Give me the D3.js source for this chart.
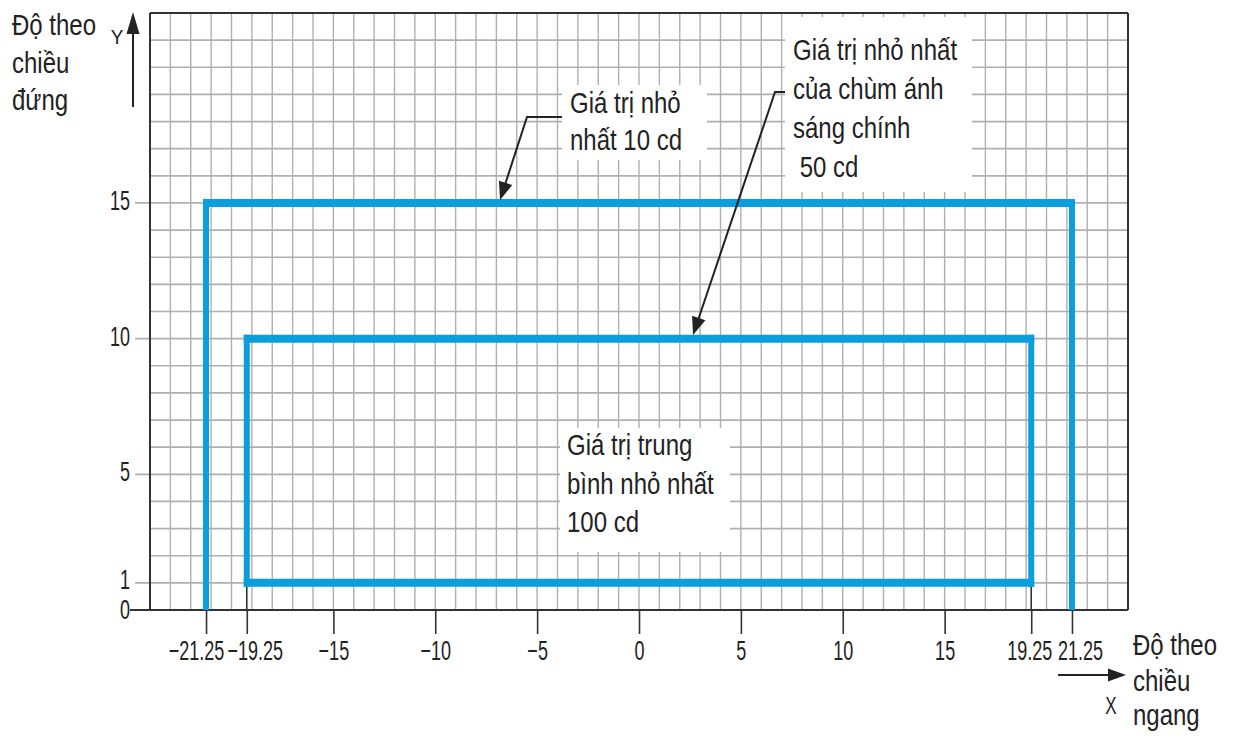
<!DOCTYPE html>
<html><head><meta charset="utf-8">
<script src="https://cdn.jsdelivr.net/npm/d3@7"></script>
<style>body{margin:0;background:#fff} svg{display:block;font-family:"Liberation Sans",Arial,sans-serif}</style>
</head><body>
<svg id="c" width="1235" height="741"></svg>
<script>
// ---- data ----
const xTicks = [-21.25, -19.25, -15, -10, -5, 0, 5, 10, 15, 19.25, 21.25];
const xTickLabels = ["−21.25", "−19.25", "−15", "−10", "−5", "0", "5", "10", "15", "19.25", "21.25"];
const yTicks = [0, 1, 5, 10, 15];
const yTickLabels = ["0", "1", "5", "10", "15"];
const xDomain = [-24, 24];
const yDomain = [0, 22];
const outerX = [-21.25, 21.25];
const outerY = [0, 15];
const innerX = [-19.25, 19.25];
const innerY = [1, 10];
const arrowTips = [[-6.82, 15.11], [2.65, 10.13]];
const labelMin10 = ["Giá trị nhỏ", "nhất 10 cd"];
const labelMin50 = ["Giá trị nhỏ nhất", "của chùm ánh", "sáng chính", " 50 cd"];
const labelAvg100 = ["Giá trị trung", "bình nhỏ nhất", "100 cd"];
const yTitle = ["Độ theo", "chiều", "đứng"];
const xTitle = ["Độ theo", "chiều", "ngang"];

// ---- layout ----
const svg = d3.select("#c");
const x = d3.scaleLinear().domain(xDomain).range([150, 1128]);
const y = d3.scaleLinear().domain(yDomain).range([610, 13]);
const BLUE = "#0a9edc", GRID = "#b0b0b0", DARK = "#333", TXT = "#222";

function txt(g, px, py, s, size, sy, anchor) {
  return g.append("text")
    .attr("transform", `translate(${px},${py}) scale(1,${sy})`)
    .attr("font-size", size).attr("fill", TXT)
    .attr("text-anchor", anchor || "start")
    .style("white-space", "pre")
    .text(s);
}

// grid
const grid = svg.append("g");
grid.selectAll("line.v").data(d3.range(xDomain[0] + 1, xDomain[1])).join("line")
  .attr("x1", d => x(d)).attr("x2", d => x(d))
  .attr("y1", y(yDomain[1])).attr("y2", y(0))
  .attr("stroke", GRID).attr("stroke-width", 1.4);
grid.selectAll("line.h").data(d3.range(1, yDomain[1])).join("line")
  .attr("x1", d => yTicks.includes(d) ? 135 : x(xDomain[0])).attr("x2", x(xDomain[1]))
  .attr("y1", d => y(d)).attr("y2", d => y(d))
  .attr("stroke", GRID).attr("stroke-width", 1.7);

// white label boxes
const boxes = [[562, 85, 145, 75], [785, 17, 187, 175], [560, 428, 170, 124]];
svg.append("g").selectAll("rect").data(boxes).join("rect")
  .attr("x", d => d[0]).attr("y", d => d[1]).attr("width", d => d[2]).attr("height", d => d[3])
  .attr("fill", "#fff");

// frame
const frame = svg.append("g").attr("stroke", DARK).attr("fill", "none");
frame.append("line").attr("x1", x(xDomain[0])).attr("x2", x(xDomain[1])).attr("y1", y(yDomain[1])).attr("y2", y(yDomain[1])).attr("stroke-width", 2);
frame.append("line").attr("x1", x(xDomain[0])).attr("x2", x(xDomain[0])).attr("y1", y(yDomain[1])).attr("y2", y(0)).attr("stroke-width", 2);
frame.append("line").attr("x1", x(xDomain[1])).attr("x2", x(xDomain[1])).attr("y1", y(yDomain[1])).attr("y2", y(0)).attr("stroke-width", 2);
frame.append("line").attr("x1", 130).attr("x2", x(xDomain[1])).attr("y1", y(0)).attr("y2", y(0)).attr("stroke-width", 2);
frame.selectAll("line.c").data(innerX).join("line")
  .attr("x1", d => x(d)).attr("x2", d => x(d)).attr("y1", y(innerY[0])).attr("y2", y(0)).attr("stroke-width", 1.6);

// x axis ticks + labels
const nudge = {"-21.25": -10, "-19.25": 8, "19.25": -2, "21.25": 8};
const ax = svg.append("g").attr("transform", `translate(0,${y(0)})`)
  .call(d3.axisBottom(x).tickValues(xTicks).tickFormat((d, i) => xTickLabels[i]).tickSize(24));
ax.select(".domain").remove();
ax.selectAll(".tick line").attr("stroke", DARK).attr("stroke-width", 1.6);
ax.selectAll(".tick text")
  .attr("y", null).attr("dy", null).attr("font-size", 18).attr("fill", TXT)
  .attr("font-family", '"Liberation Sans",Arial,sans-serif')
  .attr("transform", d => `translate(${nudge[String(d)] || 0},50) scale(1,1.55)`);

// y labels
const yl = svg.append("g");
const yNudge = {"0": 2, "1": -1};
yTicks.forEach((v, i) => txt(yl, 130, y(v) + 7 + (yNudge[String(v)] || 0), yTickLabels[i], 18, 1.5, "end"));

// blue zones
const blue = svg.append("g").attr("stroke", BLUE).attr("fill", "none");
outerX.forEach(v => blue.append("line").attr("x1", x(v)).attr("x2", x(v)).attr("y1", y(outerY[0])).attr("y2", y(outerY[1]) - 4).attr("stroke-width", 6));
blue.append("line").attr("x1", x(outerX[0]) - 3).attr("x2", x(outerX[1]) + 3).attr("y1", y(outerY[1])).attr("y2", y(outerY[1])).attr("stroke-width", 8);
innerX.forEach(v => blue.append("line").attr("x1", x(v)).attr("x2", x(v)).attr("y1", y(innerY[0]) + 4).attr("y2", y(innerY[1]) - 4).attr("stroke-width", 6));
innerY.forEach(v => blue.append("line").attr("x1", x(innerX[0]) - 3).attr("x2", x(innerX[1]) + 3).attr("y1", y(v)).attr("y2", y(v)).attr("stroke-width", 8));

// arrows
function arrow(g, pts, headLen, headHalf) {
  const n = pts.length, [tx, ty] = pts[n - 1], [px, py] = pts[n - 2];
  const dx = tx - px, dy = ty - py, L = Math.hypot(dx, dy), ux = dx / L, uy = dy / L;
  const bx = tx - ux * headLen, by = ty - uy * headLen;
  const line = pts.slice(0, n - 1).concat([[bx + ux * 2, by + uy * 2]]);
  g.append("path").attr("d", d3.line()(line)).attr("fill", "none").attr("stroke", "#222").attr("stroke-width", 2);
  g.append("path").attr("d", d3.line()([[tx, ty], [bx - uy * headHalf, by + ux * headHalf], [bx + uy * headHalf, by - ux * headHalf]]) + "Z").attr("fill", "#222");
}
const ar = svg.append("g");
arrow(ar, [[562, 117], [527, 117], [x(arrowTips[0][0]), y(arrowTips[0][1])]], 18, 7);
arrow(ar, [[785, 92], [775, 92], [x(arrowTips[1][0]), y(arrowTips[1][1])]], 18, 7);
arrow(ar, [[133, 107], [133, 12]], 22, 6.5);
arrow(ar, [[1058, 675], [1126, 675]], 18, 6.5);

// texts
const tg = svg.append("g");
labelMin10.forEach((s, i) => txt(tg, 570, 113 + i * 37, s, 24, 1.2));
labelMin50.forEach((s, i) => txt(tg, 793, 60 + i * 39, s, 24, 1.2));
labelAvg100.forEach((s, i) => txt(tg, 567, 455 + i * 38.5, s, 24, 1.2));
yTitle.forEach((s, i) => txt(tg, 12, 35 + i * 37.5, s, 24, 1.2));
const xtY = [655, 691, 725];
xTitle.forEach((s, i) => txt(tg, 1133, xtY[i], s, 24, 1.2));
txt(tg, 117, 44, "Y", 19, 1.1, "middle");
txt(tg, 1111, 714, "X", 17, 1.45, "middle");
</script>
</body></html>
